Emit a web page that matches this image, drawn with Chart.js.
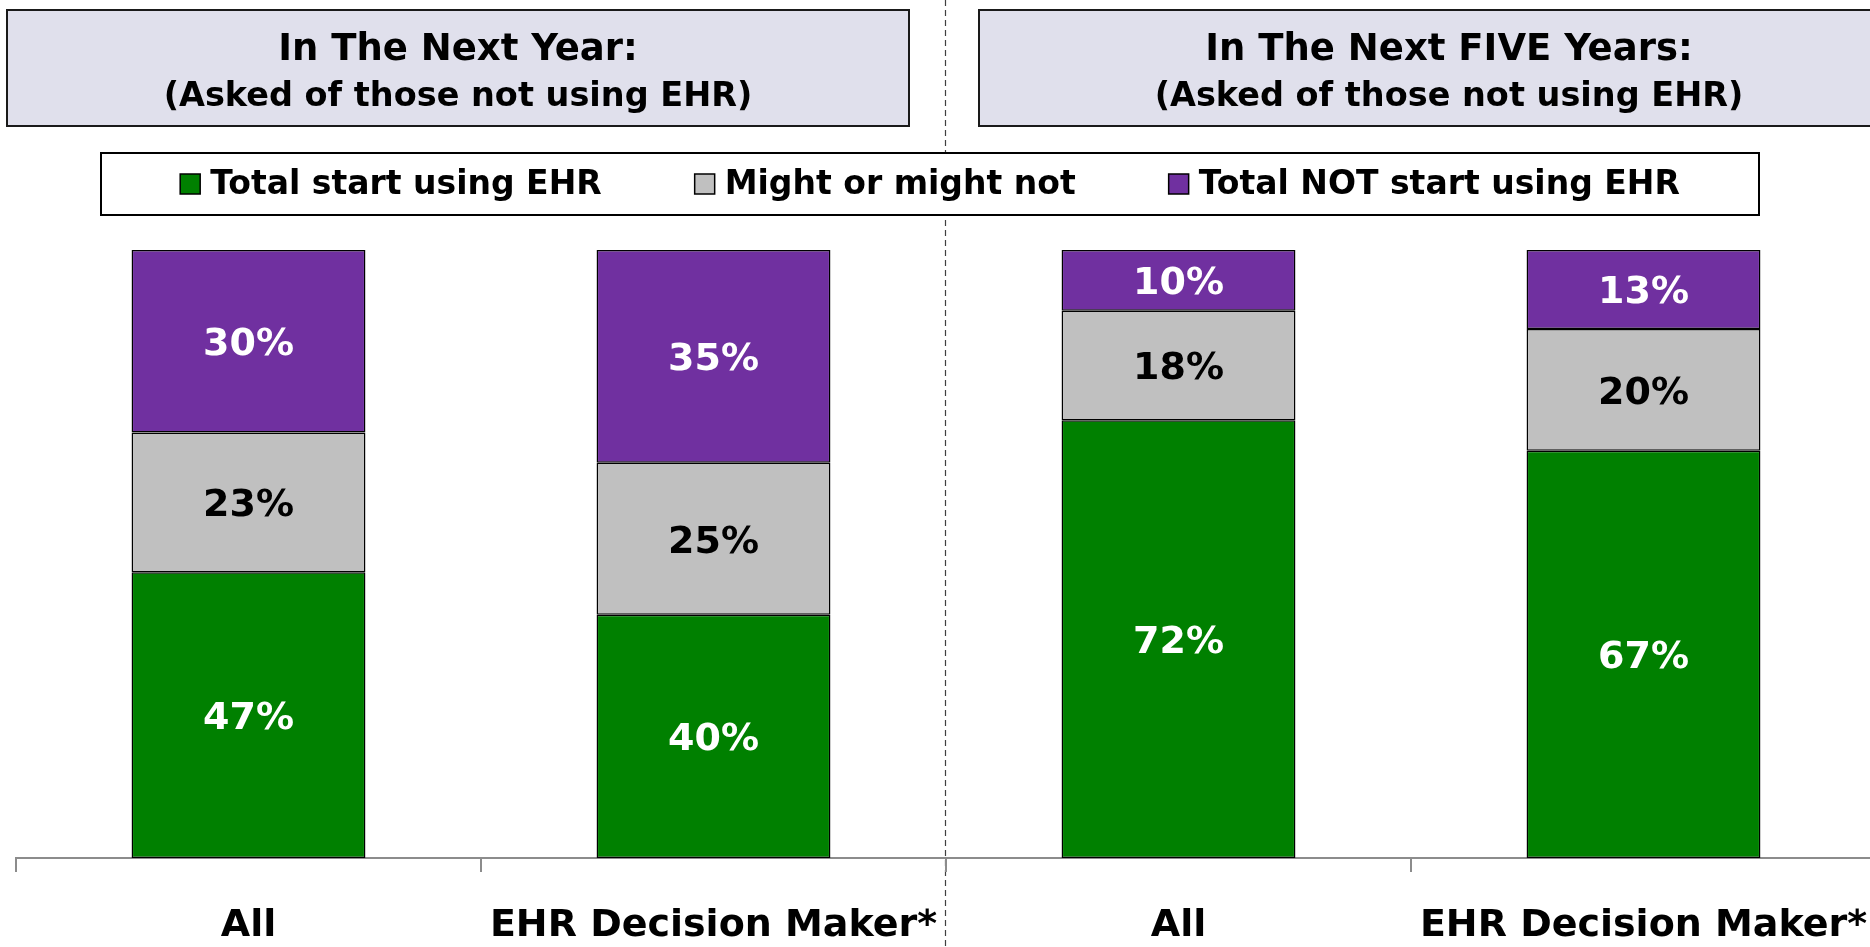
<!DOCTYPE html>
<html>
<head>
<meta charset="utf-8">
<script src="https://cdn.jsdelivr.net/npm/chart.js@4/dist/chart.umd.min.js"></script>
<style>
  html, body { margin: 0; padding: 0; background: #fff; overflow: hidden; }
  #wrap { position: relative; width: 1880px; height: 947px; }
</style>
</head>
<body>
<div id="wrap"><canvas id="chart"></canvas></div>
<script>
// values (percent)
const categories = ['All', 'EHR Decision Maker*', 'All', 'EHR Decision Maker*'];
const startUsing = [47, 40, 72, 67];
const mightOrNot = [23, 25, 18, 20];
const notStart = [30, 35, 10, 13];

const seriesNames = ['Total start using EHR', 'Might or might not', 'Total NOT start using EHR'];
const seriesColors = ['#008000', '#C0C0C0', '#7030A0'];
const labelColors = ['#FFFFFF', '#000000', '#FFFFFF'];

const panelTitles = [
  ['In The Next Year:', '(Asked of those not using EHR)'],
  ['In The Next FIVE Years:', '(Asked of those not using EHR)']
];

const FONT = '"DejaVu Sans", Verdana, sans-serif';

// dashed divider, title boxes and legend box behind/around the plot
const decorations = {
  id: 'decorations',
  beforeDraw(chart) {
    const ctx = chart.ctx;
    ctx.save();
    // divider between the two panels
    ctx.strokeStyle = '#404040';
    ctx.lineWidth = 1.2;
    ctx.setLineDash([6, 4]);
    ctx.beginPath();
    ctx.moveTo(945.5, 0);
    ctx.lineTo(945.5, 947);
    ctx.stroke();
    ctx.setLineDash([]);

    // panel title boxes
    const boxes = [[7, 10, 902, 116], [979, 10, 940, 116]];
    boxes.forEach((b, i) => {
      ctx.fillStyle = '#E0E0EC';
      ctx.fillRect(b[0], b[1], b[2], b[3]);
      ctx.strokeStyle = '#1a1a1a';
      ctx.lineWidth = 2;
      ctx.strokeRect(b[0], b[1], b[2], b[3]);
      ctx.fillStyle = '#000';
      ctx.textAlign = 'center';
      ctx.textBaseline = 'middle';
      const cx = b[0] + b[2] / 2;
      ctx.font = 'bold 37px ' + FONT;
      ctx.fillText(panelTitles[i][0], cx, 50);
      ctx.font = 'bold 33.5px ' + FONT;
      ctx.fillText(panelTitles[i][1], cx, 97);
    });

    // legend
    const lx = 101, ly = 153, lw = 1658, lh = 62;
    ctx.fillStyle = '#fff';
    ctx.fillRect(lx, ly, lw, lh);
    ctx.strokeStyle = '#000';
    ctx.lineWidth = 2;
    ctx.strokeRect(lx, ly, lw, lh);

    ctx.font = 'bold 33px ' + FONT;
    const sq = 20, gapText = 10, gapItem = 93;
    const ds = chart.data.datasets;
    const widths = ds.map(d => sq + gapText + ctx.measureText(d.label).width);
    const total = widths.reduce((a, b) => a + b, 0) + gapItem * (ds.length - 1);
    let x = lx + lw / 2 - total / 2;
    const cy = ly + lh / 2;
    ctx.textAlign = 'left';
    ctx.textBaseline = 'middle';
    ds.forEach((d, i) => {
      ctx.fillStyle = d.backgroundColor;
      ctx.fillRect(x, cy - sq / 2, sq, sq);
      ctx.strokeStyle = '#000';
      ctx.lineWidth = 1.5;
      ctx.strokeRect(x, cy - sq / 2, sq, sq);
      ctx.fillStyle = '#000';
      ctx.fillText(d.label, x + sq + gapText, cy + 1);
      x += widths[i] + gapItem;
    });
    ctx.restore();
  }
};

// percent labels inside each segment
const segmentLabels = {
  id: 'segmentLabels',
  afterDatasetsDraw(chart) {
    const ctx = chart.ctx;
    ctx.save();
    ctx.font = 'bold 38px ' + FONT;
    ctx.textAlign = 'center';
    ctx.textBaseline = 'middle';
    chart.data.datasets.forEach((d, i) => {
      const meta = chart.getDatasetMeta(i);
      meta.data.forEach((bar, j) => {
        const p = bar.getCenterPoint();
        ctx.fillStyle = labelColors[i];
        ctx.fillText(d.data[j] + '%', p.x, p.y + 4);
      });
    });
    ctx.restore();
  }
};

const seriesData = [startUsing, mightOrNot, notStart];

new Chart(document.getElementById('chart'), {
  type: 'bar',
  data: {
    labels: categories,
    datasets: seriesData.map((vals, i) => ({
      label: seriesNames[i],
      data: vals,
      backgroundColor: seriesColors[i],
      borderColor: '#000',
      borderWidth: 1.5,
      borderSkipped: false,
      categoryPercentage: 1,
      barPercentage: 0.503
    }))
  },
  options: {
    responsive: true,
    maintainAspectRatio: false,
    animation: false,
    devicePixelRatio: 1,
    layout: { padding: { top: 250, left: 16, right: 4, bottom: 0 } },
    plugins: {
      legend: { display: false },
      tooltip: { enabled: false }
    },
    scales: {
      x: {
        stacked: true,
        offset: true,
        grid: {
          offset: true,
          drawOnChartArea: false,
          drawTicks: true,
          tickLength: 14,
          color: '#8c8c8c',
          lineWidth: 2
        },
        border: { display: true, color: '#8c8c8c', width: 2 },
        ticks: {
          color: '#000',
          padding: 31,
          maxRotation: 0,
          autoSkip: false,
          font: { family: FONT, size: 38, weight: 'bold' }
        },
        // keep the axis band fixed so the plot bottom sits where the original's does
        afterFit(scale) {
          scale.height = 89;
          scale.paddingRight = 0;
        }
      },
      y: {
        stacked: true,
        display: false,
        min: 0,
        max: 100
      }
    }
  },
  plugins: [decorations, segmentLabels]
});
</script>
</body>
</html>
